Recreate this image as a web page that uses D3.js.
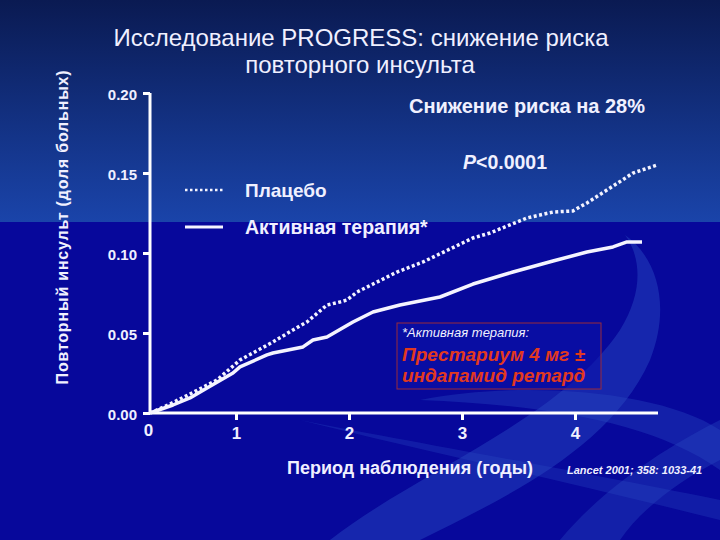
<!DOCTYPE html>
<html><head><meta charset="utf-8">
<script src="https://cdn.jsdelivr.net/npm/d3@7"></script>
<style>body{margin:0;background:#07089b}svg{display:block}</style>
</head><body>
<script>
const yTicks = [0, 0.05, 0.10, 0.15, 0.20];
const xTicks = [0, 1, 2, 3, 4];
const placeboT = [0,0.233,0.465,0.779,1.035,1.327,1.504,1.628,1.805,1.920,1.982,2.071,2.425,2.655,3.097,3.248,3.575,3.805,3.982,4.106,4.460,4.513,4.726];
const placeboY = [0,0.0056,0.0119,0.0206,0.0331,0.0444,0.0519,0.0569,0.0675,0.0694,0.0706,0.0756,0.0881,0.0944,0.1094,0.1125,0.1219,0.1256,0.1263,0.1313,0.1475,0.150,0.155];
const activeT = [0,0.267,0.465,0.663,0.965,1.035,1.274,1.327,1.593,1.681,1.805,2.035,2.212,2.451,2.805,3.097,3.451,3.805,4.106,4.336,4.460,4.593];
const activeY = [0,0.005,0.0094,0.0156,0.025,0.0288,0.0363,0.0375,0.0413,0.0456,0.0475,0.0569,0.0631,0.0675,0.0725,0.0806,0.0881,0.095,0.1006,0.1038,0.1069,0.1069];

const W = 720, H = 540;
const F = "Liberation Sans, Arial, sans-serif";
const svg = d3.select("body").append("svg").attr("width", W).attr("height", H);
const defs = svg.append("defs");
const g1 = defs.append("linearGradient").attr("id","topg").attr("x1",0).attr("y1",0).attr("x2",0).attr("y2",1);
g1.append("stop").attr("offset","0%").attr("stop-color","#0a1a52");
g1.append("stop").attr("offset","100%").attr("stop-color","#1a44aa");

svg.append("rect").attr("width",W).attr("height",H).attr("fill","#07089b");
svg.append("rect").attr("width",W).attr("height",222).attr("fill","url(#topg)");

// decorative swooshes
const deco = svg.append("g").attr("fill","#2a4cc4");
deco.append("path").attr("opacity",0.45)
  .attr("d","M330,540 C420,470 560,420 620,330 C645,290 640,255 625,235 C660,260 670,310 650,360 C610,450 500,500 420,540 Z");
deco.append("path").attr("opacity",0.35)
  .attr("d","M420,400 C520,380 660,390 720,430 L720,470 C650,420 540,405 420,400 Z");
deco.append("path").attr("opacity",0.35)
  .attr("d","M560,540 C610,480 680,440 720,420 L720,460 C680,480 640,510 620,540 Z");
deco.append("path").attr("opacity",0.3)
  .attr("d","M300,420 C400,440 520,460 720,500 L720,520 C560,480 420,450 300,420 Z");

const x = d3.scaleLinear().domain([0, 1, 4]).range([150, 236, 575]);
const y = d3.scaleLinear().domain([0, 0.20]).range([413, 93]);

// Title
svg.append("text").attr("x",361).attr("y",46).attr("text-anchor","middle")
  .attr("font-family",F).attr("font-size",24).attr("fill","#f0f0ff")
  .text("Исследование PROGRESS: снижение риска");
svg.append("text").attr("x",360).attr("y",73).attr("text-anchor","middle")
  .attr("font-family",F).attr("font-size",24).attr("fill","#f0f0ff")
  .text("повторного инсульта");

// Y axis title
svg.append("text").attr("transform","translate(68,227) rotate(-90)").attr("text-anchor","middle")
  .attr("font-family",F).attr("font-size",16).attr("font-weight","bold").attr("letter-spacing",0.8).attr("fill","#f0f0ff")
  .text("Повторный инсульт (доля больных)");

// Y axis
const yAxis = svg.append("g").attr("transform","translate(150,0)")
  .call(d3.axisLeft(y).tickValues(yTicks).tickFormat(d3.format(".2f")).tickSize(7).tickPadding(6));
yAxis.select(".domain").attr("stroke","#fff").attr("stroke-width",3).attr("d","M0,93V413");
yAxis.selectAll(".tick line").attr("stroke","#fff").attr("stroke-width",3);
yAxis.selectAll(".tick text").attr("fill","#f0f0ff").attr("font-family",F)
  .attr("font-size",15).attr("font-weight","bold").attr("dy","0.4em");

// X axis
const xAxis = svg.append("g").attr("transform","translate(0,413)")
  .call(d3.axisBottom(x).tickValues(xTicks).tickFormat(d3.format("d")).tickSize(7).tickPadding(7));
xAxis.select(".domain").attr("stroke","#fff").attr("stroke-width",3).attr("d","M150,0H658");
xAxis.selectAll(".tick line").attr("stroke","#fff").attr("stroke-width",3)
  .attr("opacity", d => d === 0 ? 0 : 1);
xAxis.selectAll(".tick text").attr("fill","#f0f0ff").attr("font-family",F)
  .attr("font-size",17).attr("font-weight","bold")
  .attr("transform", d => d === 0 ? "translate(-2,-3)" : null);

// Lines
const line = d3.line().x(d => x(d[0])).y(d => y(d[1])).curve(d3.curveLinear);
svg.append("path").datum(placeboT.map((t,i)=>[t,placeboY[i]]))
  .attr("d",line).attr("fill","none").attr("stroke","#f4f4ff").attr("stroke-width",3.5)
  .attr("stroke-dasharray","3,2.5");
svg.append("path").datum(activeT.map((t,i)=>[t,activeY[i]]))
  .attr("d",line).attr("fill","none").attr("stroke","#f4f4ff").attr("stroke-width",3.5)
  .attr("stroke-linejoin","round");

// Annotations
svg.append("text").attr("x",645).attr("y",113).attr("text-anchor","end").attr("font-family",F)
  .attr("font-size",20).attr("font-weight","bold").attr("fill","#f0f0ff").text("Снижение риска на 28%");
const pt = svg.append("text").attr("x",463).attr("y",169).attr("font-family",F)
  .attr("font-size",19.5).attr("font-weight","bold").attr("fill","#f0f0ff");
pt.append("tspan").attr("font-style","italic").text("P");
pt.append("tspan").text("<0.0001");

// Legend
svg.append("line").attr("x1",185).attr("x2",223).attr("y1",190).attr("y2",190)
  .attr("stroke","#f4f4ff").attr("stroke-width",2.5).attr("stroke-dasharray","2.5,2.5");
svg.append("text").attr("x",245).attr("y",197).attr("font-family",F).attr("font-size",19)
  .attr("font-weight","bold").attr("fill","#f0f0ff").text("Плацебо");
svg.append("line").attr("x1",185).attr("x2",223).attr("y1",227).attr("y2",227)
  .attr("stroke","#f4f4ff").attr("stroke-width",3);
svg.append("text").attr("x",245).attr("y",234).attr("font-family",F).attr("font-size",19.5)
  .attr("font-weight","bold").attr("fill","#f0f0ff").text("Активная терапия*");

// Box
svg.append("rect").attr("x",397).attr("y",323).attr("width",204).attr("height",66)
  .attr("fill","#0b10a8").attr("fill-opacity",0.6).attr("stroke","#9a2a3a").attr("stroke-width",1);
svg.append("text").attr("x",402).attr("y",337).attr("font-family",F).attr("font-size",13)
  .attr("font-style","italic").attr("fill","#f0f0ff").text("*Активная терапия:");
svg.append("text").attr("x",402).attr("y",361).attr("font-family",F).attr("font-size",19)
  .attr("font-style","italic").attr("font-weight","bold").attr("fill","#e2391e").text("Престариум 4 мг ±");
svg.append("text").attr("x",402).attr("y",382).attr("font-family",F).attr("font-size",19)
  .attr("font-style","italic").attr("font-weight","bold").attr("fill","#e2391e").text("индапамид ретард");

// X axis title & source
svg.append("text").attr("x",410).attr("y",474).attr("text-anchor","middle").attr("font-family",F)
  .attr("font-size",18).attr("font-weight","bold").attr("fill","#f0f0ff").text("Период наблюдения (годы)");
svg.append("text").attr("x",567).attr("y",474).attr("font-family",F).attr("font-size",11)
  .attr("font-style","italic").attr("font-weight","bold").attr("fill","#f0f0ff").text("Lancet 2001; 358: 1033-41");
</script>
</body></html>
